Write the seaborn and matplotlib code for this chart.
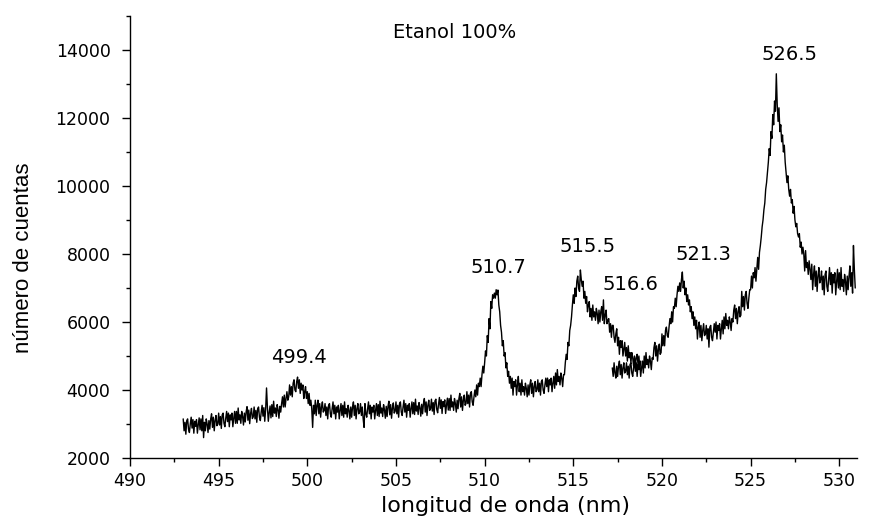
import numpy as np
import pandas as pd
import matplotlib
matplotlib.use("Agg")
import matplotlib.pyplot as plt
import seaborn as sns
from matplotlib.ticker import MultipleLocator

# ---------------- data ----------------
# Segment A: 493.00 .. 518.80 nm, step 0.05 nm (one row = 0.5 nm)
seg_a_start, seg_a_step = 493.0, 0.05
seg_a_counts = [
    3150, 2800, 3050, 2700, 3100, 3150, 2850, 2750, 3000, 3200,   # 493.0
    2880, 3130, 2730, 3080, 2930, 3130, 2730, 2980, 3180, 2830,   # 493.5
    3150, 2800, 3250, 2600, 3050, 2800, 3150, 3000, 2750, 3100,   # 494.0
    2850, 3150, 3300, 2900, 3200, 2800, 3100, 3250, 2950, 3000,   # 494.5
    3320, 2970, 3220, 2870, 3270, 3320, 3020, 2920, 3170, 3370,   # 495.0
    3070, 3320, 2920, 3270, 3120, 3320, 2920, 3170, 3370, 3020,   # 495.5
    3370, 3020, 3470, 3120, 3270, 3020, 3370, 3220, 2970, 3320,   # 496.0
    3060, 3360, 3510, 3110, 3410, 3010, 3310, 3460, 3160, 3210,   # 496.5
    3500, 3150, 3400, 3050, 3450, 3500, 3200, 3100, 3350, 3550,   # 497.0
    3230, 3480, 3080, 3430, 4060, 3480, 3080, 3330, 3530, 3180,   # 497.5
    3570, 3220, 3670, 3320, 3470, 3220, 3570, 3420, 3170, 3520,   # 498.0
    3350, 3600, 3800, 3500, 3850, 3500, 3750, 3950, 3700, 3800,   # 498.5
    4150, 3850, 4100, 3800, 4200, 4300, 4000, 3950, 4250, 4380,   # 499.0
    4050, 4300, 3900, 4200, 4000, 4150, 3750, 3950, 4100, 3750,   # 499.5
    3950, 3600, 3900, 3550, 3700, 3450, 2900, 3550, 3300, 3700,   # 500.0
    3250, 3550, 3700, 3300, 3600, 3200, 3500, 3650, 3350, 3400,   # 500.5
    3600, 3250, 3500, 3150, 3550, 3600, 3300, 3200, 3450, 3650,   # 501.0
    3300, 3550, 3150, 3500, 3350, 3550, 3150, 3400, 3600, 3250,   # 501.5
    3550, 3200, 3650, 3300, 3450, 3200, 3550, 3400, 3150, 3500,   # 502.0
    3200, 3500, 3650, 3250, 3550, 3150, 3450, 3600, 3300, 3350,   # 502.5
    3600, 3250, 3500, 3150, 2900, 3600, 3300, 3200, 3450, 3650,   # 503.0
    3300, 3550, 3150, 3500, 3350, 3550, 3150, 3400, 3600, 3250,   # 503.5
    3570, 3220, 3670, 3320, 3470, 3220, 3570, 3420, 3170, 3520,   # 504.0
    3220, 3520, 3670, 3270, 3570, 3170, 3470, 3620, 3320, 3370,   # 504.5
    3650, 3300, 3550, 3200, 3600, 3650, 3350, 3250, 3500, 3700,   # 505.0
    3350, 3600, 3200, 3550, 3400, 3600, 3200, 3450, 3650, 3300,   # 505.5
    3630, 3280, 3730, 3380, 3530, 3280, 3630, 3480, 3230, 3580,   # 506.0
    3300, 3600, 3750, 3350, 3650, 3250, 3550, 3700, 3400, 3450,   # 506.5
    3730, 3380, 3630, 3280, 3680, 3730, 3430, 3330, 3580, 3780,   # 507.0
    3460, 3710, 3310, 3660, 3510, 3710, 3310, 3560, 3760, 3410,   # 507.5
    3750, 3400, 3850, 3500, 3650, 3400, 3750, 3600, 3350, 3700,   # 508.0
    3450, 3750, 3900, 3500, 3800, 3400, 3700, 3850, 3550, 3600,   # 508.5
    3950, 3600, 3850, 3500, 3900, 3950, 3650, 3550, 3800, 4000,   # 509.0
    3800, 4150, 3850, 4200, 4100, 4350, 4100, 4450, 4700, 4500,   # 509.5
    4800, 5150, 5000, 5600, 5400, 6100, 5800, 6600, 6400, 6800,   # 510.0
    6700, 6850, 6700, 6950, 6800, 6940, 6500, 6300, 5900, 5700,   # 510.5
    5300, 5450, 5000, 5100, 4650, 4800, 4400, 4550, 4200, 4400,   # 511.0
    4050, 4350, 3850, 4250, 4100, 4300, 3850, 4150, 4400, 3950,   # 511.5
    4200, 3850, 4300, 3950, 4100, 3850, 4200, 4050, 3800, 4150,   # 512.0
    3850, 4150, 4300, 3900, 4200, 3800, 4100, 4250, 3950, 4000,   # 512.5
    4300, 3950, 4200, 3850, 4250, 4300, 4000, 3900, 4150, 4350,   # 513.0
    4100, 4350, 3950, 4300, 4150, 4350, 3950, 4200, 4400, 4050,   # 513.5
    4500, 4150, 4600, 4250, 4400, 4150, 4500, 4350, 4100, 4450,   # 514.0
    4450, 4800, 5050, 4900, 5400, 5300, 5750, 5900, 6150, 6500,   # 514.5
    6800, 6550, 7000, 6750, 7200, 7350, 7000, 6900, 7530, 7250,   # 515.0
    7050, 7200, 6700, 6900, 6550, 6750, 6300, 6500, 6600, 6150,   # 515.5
    6400, 6050, 6500, 6150, 6300, 6050, 6400, 6250, 5950, 6350,   # 516.0
    6000, 6300, 6450, 6050, 6650, 5950, 6200, 6350, 5950, 6050,   # 516.5
    6100, 5700, 5950, 5550, 5900, 5900, 5550, 5400, 5650, 5800,   # 517.0
    5300, 5550, 5050, 5450, 5250, 5450, 5000, 5200, 5400, 5000,   # 517.5
    5250, 4850, 5300, 4950, 5100, 4800, 5100, 4950, 4700, 5000,   # 518.0
    4700, 4950, 5050, 4750, 5000, 4650, 4850,                     # 518.5-518.8
]

# Segment B: 517.20 .. 530.90 nm, step 0.05 nm
seg_b_start, seg_b_step = 517.2, 0.05
seg_b_counts = [
    4650, 4400, 4800, 4500, 4350, 4700,                           # 517.2-517.45
    4400, 4700, 4850, 4450, 4750, 4350, 4650, 4800, 4500, 4550,   # 517.5
    4800, 4450, 4700, 4350, 4750, 4800, 4500, 4400, 4650, 4850,   # 518.0
    4550, 4800, 4400, 4750, 4600, 4800, 4400, 4650, 4850, 4500,   # 518.5
    5000, 4650, 5100, 4750, 4900, 4650, 5000, 4850, 4600, 4950,   # 519.0
    4900, 5250, 5400, 5000, 5300, 4850, 5200, 5350, 5050, 5100,   # 519.5
    5650, 5300, 5600, 5300, 5750, 5850, 5600, 5550, 5850, 6100,   # 520.0
    5950, 6300, 6000, 6450, 6400, 6700, 6450, 6800, 7050, 6900,   # 520.5
    7150, 6900, 7250, 7470, 7000, 7200, 6800, 7000, 6600, 6800,   # 521.0
    6500, 6650, 6300, 6450, 6100, 6300, 5900, 6150, 5800, 6050,   # 521.5
    5500, 5850, 6000, 5550, 5900, 5450, 5750, 5950, 5600, 5650,   # 522.0
    5900, 5500, 5800, 5260, 5850, 5900, 5550, 5450, 5700, 5950,   # 522.5
    5700, 6000, 5500, 5900, 5750, 5950, 5500, 5800, 6050, 5650,   # 523.0
    6150, 5800, 6250, 5900, 6050, 5800, 6150, 6000, 5750, 6100,   # 523.5
    6000, 6350, 6500, 6100, 6400, 5950, 6300, 6450, 6150, 6200,   # 524.0
    6900, 6450, 6750, 6350, 6800, 6900, 6550, 6400, 6700, 6950,   # 524.5
    6950, 7350, 7000, 7450, 7300, 7600, 7200, 7550, 7900, 7550,   # 525.0
    8050, 8250, 8500, 8800, 9000, 9300, 9500, 9900, 10100, 10400,  # 525.5
    10700, 11100, 10900, 11600, 11400, 12100, 11800, 12500, 12200, 13300,  # 526.0
    12400, 11900, 12300, 11600, 11800, 11300, 11500, 11000, 11200, 10700,  # 526.5
    10400, 10100, 10300, 9900, 9700, 9900, 9500, 9600, 9200, 9400,  # 527.0
    9000, 8800, 8900, 8600, 8500, 8600, 8200, 8350, 8000, 8200,   # 527.5
    8000, 7500, 8100, 7600, 7750, 7400, 7800, 7550, 7250, 7700,   # 528.0
    6950, 7400, 7650, 7050, 7500, 6900, 7350, 7600, 7150, 7250,   # 528.5
    7500, 6950, 7350, 6800, 7400, 7500, 7050, 6900, 7250, 7600,   # 529.0
    7100, 7450, 6850, 7400, 7150, 7450, 6800, 7200, 7550, 7000,   # 529.5
    7450, 6950, 7600, 7050, 7250, 6900, 7400, 7200, 6800, 7350,   # 530.0
    6950, 7350, 7650, 7050, 7450, 6850, 8250, 7550, 7000,         # 530.5-530.9
]

peak_labels = ["499.4", "510.7", "515.5", "516.6", "521.3", "526.5"]
peak_label_x = [499.53, 510.76, 515.83, 518.25, 522.32, 527.17]
peak_label_y = [4970, 7590, 8235, 7090, 8000, 13880]

title_text = "Etanol 100%"
x_label = "longitud de onda (nm)"
y_label = "número de cuentas"

# ---------------- build frames ----------------
wl_a = seg_a_start + seg_a_step * np.arange(len(seg_a_counts))
wl_b = seg_b_start + seg_b_step * np.arange(len(seg_b_counts))
df = pd.concat([
    pd.DataFrame({"wl": wl_a, "counts": seg_a_counts, "seg": "A"}),
    pd.DataFrame({"wl": wl_b, "counts": seg_b_counts, "seg": "B"}),
], ignore_index=True)

# ---------------- style ----------------
sns.set_theme(style="ticks")
plt.rcParams["font.family"] = ["DejaVu Sans"]
plt.rcParams["axes.linewidth"] = 1.0
plt.rcParams["axes.edgecolor"] = "black"
plt.rcParams["axes.labelcolor"] = "black"
plt.rcParams["text.color"] = "black"
plt.rcParams["xtick.color"] = "black"
plt.rcParams["ytick.color"] = "black"

fig = plt.figure(figsize=(8.73, 5.24), dpi=100)
ax = fig.add_axes([130 / 873, 1 - 458 / 524, (857 - 130) / 873, (458 - 16) / 524])

sns.lineplot(data=df, x="wl", y="counts", units="seg", estimator=None,
             sort=False, color="black", linewidth=1.0, ax=ax, legend=False)

ax.set_xlim(490, 531)
ax.set_ylim(2000, 15000)
ax.xaxis.set_major_locator(MultipleLocator(5))
ax.xaxis.set_minor_locator(MultipleLocator(2.5))
ax.yaxis.set_major_locator(MultipleLocator(2000))
ax.yaxis.set_minor_locator(MultipleLocator(1000))
ax.tick_params(which="major", direction="out", length=6, width=1.0,
               labelsize=12.5, colors="black")
ax.tick_params(which="minor", direction="out", length=3, width=1.0)
ax.tick_params(axis="y", pad=8)
ax.tick_params(axis="x", pad=4)
sns.despine(ax=ax)

ax.set_xlabel(x_label, fontsize=16, color="black")
ax.xaxis.set_label_coords(0.517, -0.085)
ax.set_ylabel(y_label, fontsize=16, color="black",
              family=["Liberation Sans", "DejaVu Sans"])
ax.yaxis.set_label_coords(-0.132, 0.4525)

for lbl, lx, ly in zip(peak_labels, peak_label_x, peak_label_y):
    ax.text(lx, ly, lbl, ha="center", va="center", fontsize=14, color="black")

ax.text(508.3, 14500, title_text, ha="center", va="center", fontsize=14,
        color="black")

fig.savefig("out.png", dpi=100)
